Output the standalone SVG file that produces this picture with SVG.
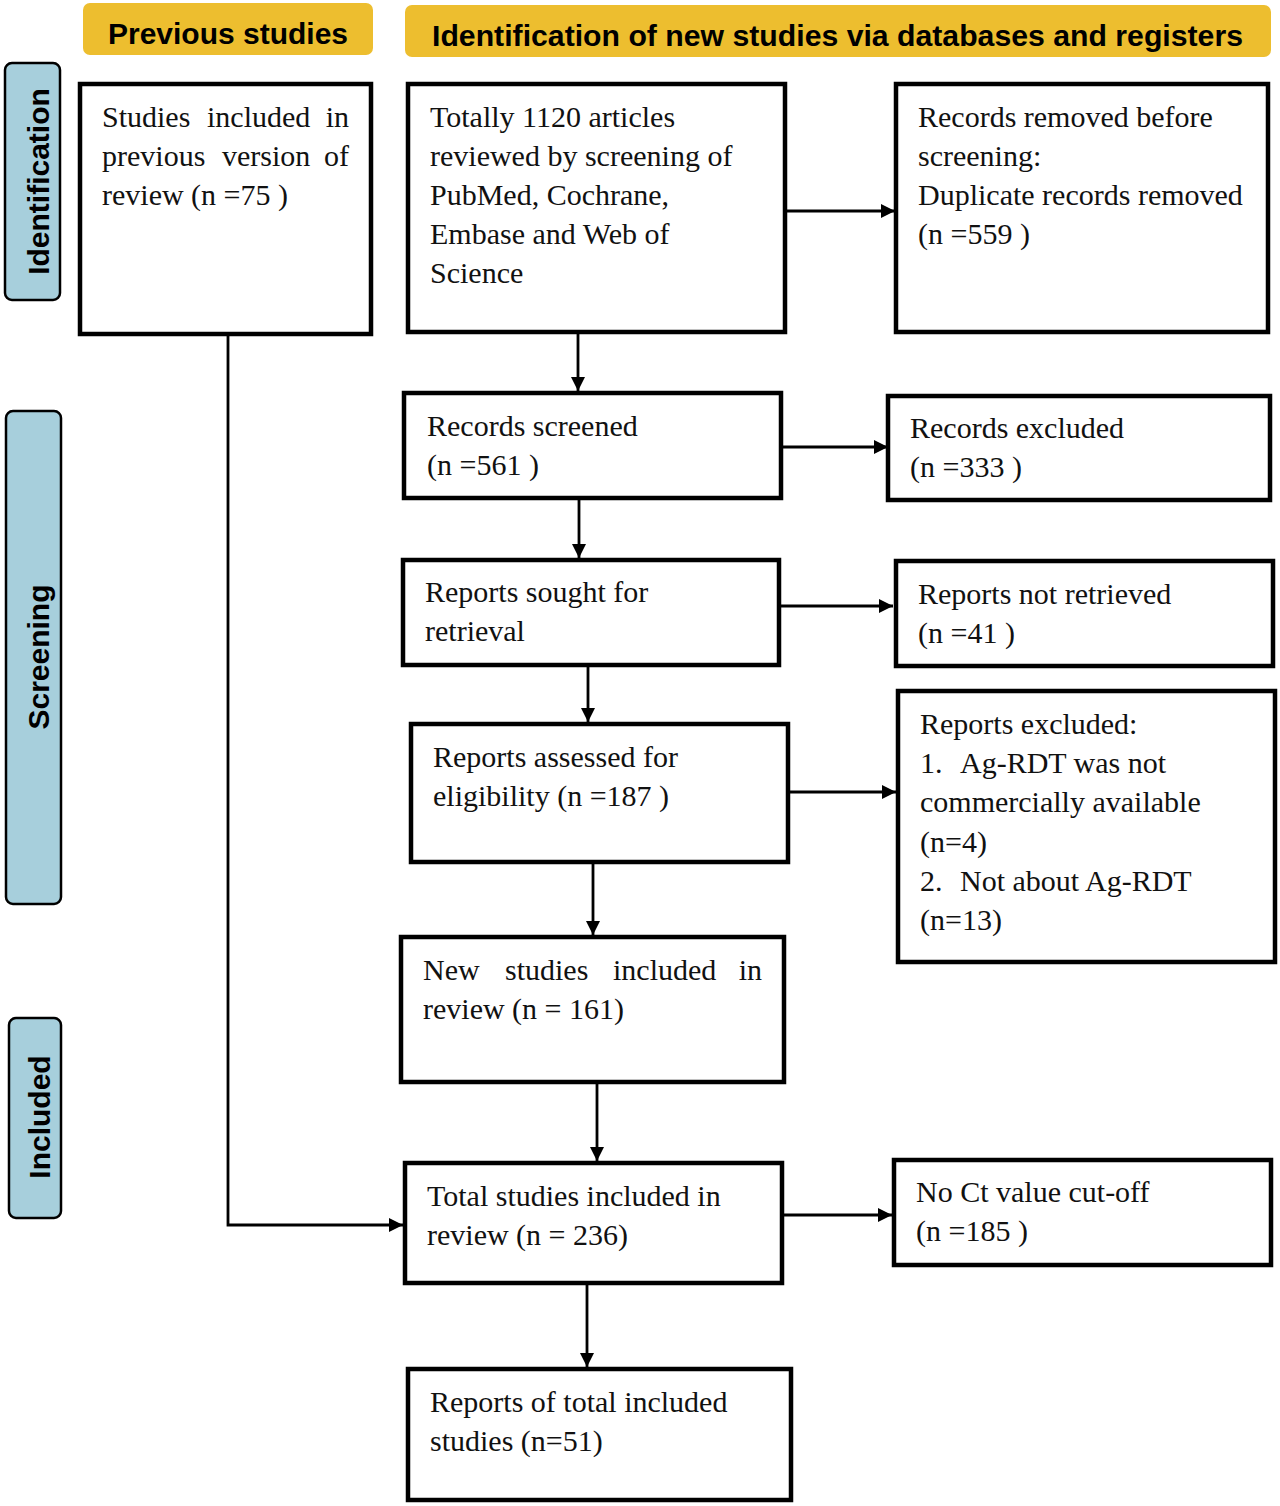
<svg xmlns="http://www.w3.org/2000/svg" width="1280" height="1506" viewBox="0 0 1280 1506">
<style>
.box{fill:#fff;stroke:#000;stroke-width:4.5}
.hdr{fill:#EDBE2F;stroke:none}
.side{fill:#A7CFDC;stroke:#000;stroke-width:2.5}
.t{font-family:"Liberation Serif","Times New Roman",serif;font-size:30px;fill:#111}
.h{font-family:"Liberation Sans",Arial,sans-serif;font-weight:bold;font-size:30px;fill:#000}
.c{fill:none;stroke:#000;stroke-width:2.8}
</style>
<defs>
<marker id="ah" markerUnits="userSpaceOnUse" markerWidth="16" markerHeight="16" refX="14" refY="8" orient="auto">
<path d="M0,1 L14,8 L0,15 z" fill="#000"/>
</marker>
</defs>
<rect width="1280" height="1506" fill="#fff"/>

<g id="header-previous">
<rect class="hdr" x="83" y="3" width="290" height="52" rx="7"/>
<text class="h" x="228" y="44" text-anchor="middle">Previous studies</text>
</g>
<g id="header-new">
<rect class="hdr" x="405" y="5" width="866" height="52" rx="7"/>
<text class="h" x="432" y="46" textLength="811" lengthAdjust="spacingAndGlyphs">Identification of new studies via databases and registers</text>
</g>

<g id="side-identification">
<rect class="side" x="5" y="63" width="55" height="237" rx="7"/>
<text class="h" transform="translate(49,181.5) rotate(-90)" text-anchor="middle">Identification</text>
</g>
<g id="side-screening">
<rect class="side" x="6" y="411" width="55" height="493" rx="7"/>
<text class="h" transform="translate(49,657) rotate(-90)" text-anchor="middle">Screening</text>
</g>
<g id="side-included">
<rect class="side" x="9" y="1018" width="52" height="200" rx="7"/>
<text class="h" transform="translate(50,1117) rotate(-90)" text-anchor="middle">Included</text>
</g>

<g id="connectors">
<line class="c" x1="578" y1="334" x2="578" y2="391" marker-end="url(#ah)"/>
<line class="c" x1="787" y1="211" x2="895" y2="211" marker-end="url(#ah)"/>
<line class="c" x1="781" y1="447" x2="888" y2="447" marker-end="url(#ah)"/>
<line class="c" x1="579" y1="500" x2="579" y2="558" marker-end="url(#ah)"/>
<line class="c" x1="779" y1="606" x2="893" y2="606" marker-end="url(#ah)"/>
<line class="c" x1="588" y1="667" x2="588" y2="722" marker-end="url(#ah)"/>
<line class="c" x1="788" y1="792" x2="896" y2="792" marker-end="url(#ah)"/>
<line class="c" x1="593" y1="864" x2="593" y2="935" marker-end="url(#ah)"/>
<line class="c" x1="597" y1="1084" x2="597" y2="1161" marker-end="url(#ah)"/>
<polyline class="c" points="228,336 228,1225 403,1225" marker-end="url(#ah)"/>
<line class="c" x1="782" y1="1215" x2="892" y2="1215" marker-end="url(#ah)"/>
<line class="c" x1="587" y1="1285" x2="587" y2="1367" marker-end="url(#ah)"/>
</g>

<g id="previous-studies">
<rect class="box" x="80" y="84" width="291" height="250"/>
<text class="t" y="127"><tspan x="102">Studies</tspan><tspan x="207">included</tspan><tspan x="349" text-anchor="end">in</tspan></text>
<text class="t" y="166"><tspan x="102">previous</tspan><tspan x="222">version</tspan><tspan x="349" text-anchor="end">of</tspan></text>
<text class="t" x="102" y="205">review (n =75 )</text>
</g>

<g id="totally">
<rect class="box" x="408" y="84" width="377" height="248"/>
<text class="t"><tspan x="430" y="127">Totally 1120 articles</tspan><tspan x="430" y="166">reviewed by screening of</tspan><tspan x="430" y="205">PubMed, Cochrane,</tspan><tspan x="430" y="244">Embase and Web of</tspan><tspan x="430" y="283">Science</tspan></text>
</g>

<g id="records-removed">
<rect class="box" x="896" y="84" width="372" height="248"/>
<text class="t"><tspan x="918" y="127">Records removed before</tspan><tspan x="918" y="166">screening:</tspan><tspan x="918" y="205">Duplicate records removed</tspan><tspan x="918" y="244">(n =559 )</tspan></text>
</g>

<g id="records-screened">
<rect class="box" x="404" y="393" width="377" height="105"/>
<text class="t"><tspan x="427" y="436">Records screened</tspan><tspan x="427" y="475">(n =561 )</tspan></text>
</g>

<g id="records-excluded">
<rect class="box" x="888" y="396" width="382" height="104"/>
<text class="t"><tspan x="910" y="438">Records excluded</tspan><tspan x="910" y="477">(n =333 )</tspan></text>
</g>

<g id="reports-sought">
<rect class="box" x="403" y="560" width="376" height="105"/>
<text class="t"><tspan x="425" y="602">Reports sought for</tspan><tspan x="425" y="641">retrieval</tspan></text>
</g>

<g id="reports-not-retrieved">
<rect class="box" x="896" y="561" width="377" height="105"/>
<text class="t"><tspan x="918" y="604">Reports not retrieved</tspan><tspan x="918" y="643">(n =41 )</tspan></text>
</g>

<g id="reports-assessed">
<rect class="box" x="411" y="724" width="377" height="138"/>
<text class="t"><tspan x="433" y="767">Reports assessed for</tspan><tspan x="433" y="806">eligibility (n =187 )</tspan></text>
</g>

<g id="reports-excluded">
<rect class="box" x="898" y="691" width="377" height="271"/>
<text class="t" x="920" y="734">Reports excluded:</text>
<text class="t" y="773"><tspan x="920">1.</tspan><tspan x="960">Ag-RDT was not</tspan></text>
<text class="t" x="920" y="812">commercially available</text>
<text class="t" x="920" y="852">(n=4)</text>
<text class="t" y="891"><tspan x="920">2.</tspan><tspan x="960">Not about Ag-RDT</tspan></text>
<text class="t" x="920" y="930">(n=13)</text>
</g>

<g id="new-studies">
<rect class="box" x="401" y="937" width="383" height="145"/>
<text class="t" y="980"><tspan x="423">New</tspan><tspan x="505">studies</tspan><tspan x="613">included</tspan><tspan x="762" text-anchor="end">in</tspan></text>
<text class="t" x="423" y="1019">review (n = 161)</text>
</g>

<g id="total-studies">
<rect class="box" x="405" y="1163" width="377" height="120"/>
<text class="t"><tspan x="427" y="1206">Total studies included in</tspan><tspan x="427" y="1245">review (n = 236)</tspan></text>
</g>

<g id="no-ct">
<rect class="box" x="894" y="1160" width="377" height="105"/>
<text class="t"><tspan x="916" y="1202">No Ct value cut-off</tspan><tspan x="916" y="1241">(n =185 )</tspan></text>
</g>

<g id="reports-total">
<rect class="box" x="408" y="1369" width="383" height="131"/>
<text class="t"><tspan x="430" y="1412">Reports of total included</tspan><tspan x="430" y="1451">studies (n=51)</tspan></text>
</g>
</svg>
